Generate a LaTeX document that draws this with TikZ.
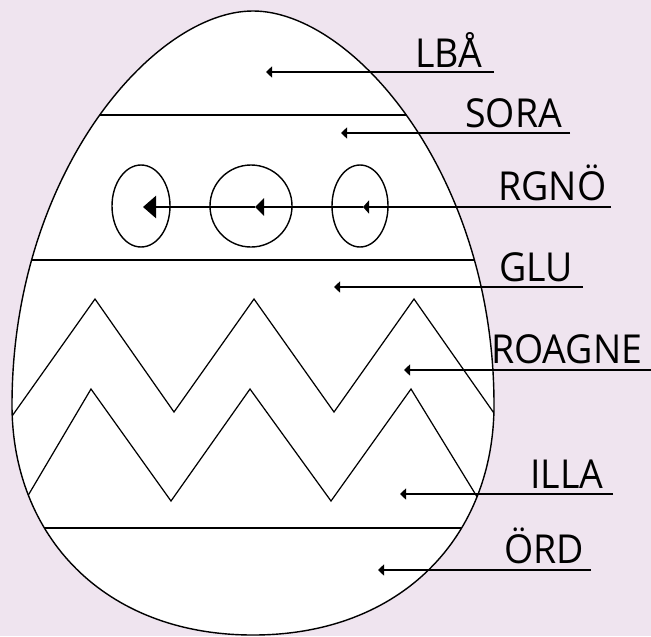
\documentclass[tikz,border=0pt]{standalone}
\usepackage{fontspec}
\setmainfont{Open Sans}[FakeStretch=0.94]
\usetikzlibrary{arrows.meta}
\definecolor{eggbg}{RGB}{239,228,239}

\begin{document}
\begin{tikzpicture}[x=0.02cm, y=-0.02cm,
  lbl/.style={font=\fontsize{22.7}{26}\selectfont, inner sep=0pt, anchor=base west},
  pointer/.style={line width=0.8pt, -{Triangle[length=0.12cm, width=0.22cm]}},
  band/.style={line width=0.8pt},
  zig/.style={line width=0.7pt, line join=miter}]
  % Background
  \fill[eggbg] (0,0) rectangle (651,636);
  \useasboundingbox (0,0) rectangle (651,636);

  % Egg outline
  \path[save path=\eggpath] (253,11) .. controls (353,11) and (494,175) .. (494,405)
    .. controls (494,535) and (403,635) .. (253,635)
    .. controls (103,635) and (12,535) .. (12,405)
    .. controls (12,175) and (153,11) .. (253,11) -- cycle;
  \fill[white, use path=\eggpath];

  % Bands and zigzags, clipped to the egg
  \begin{scope}
    \clip[use path=\eggpath];
    \draw[band] (0,115) -- (651,115);
    \draw[band] (0,260) -- (651,260);
    \draw[band] (0,528) -- (651,528);
    \draw[zig] (5,426) -- (95,299) -- (174,412) -- (254,299) -- (334,412) -- (414,299) -- (503,426);
    \draw[zig] (26,499) -- (91,389) -- (171,501) -- (250,389) -- (331,501) -- (411,389) -- (479,500);
  \end{scope}
  \draw[line width=0.8pt, use path=\eggpath];

  % Dots
  \draw[line width=0.8pt] (141,206) ellipse [x radius=29, y radius=41];
  \draw[line width=0.8pt] (251,206) ellipse [x radius=41, y radius=41];
  \draw[line width=0.8pt] (360,206) ellipse [x radius=28, y radius=41];

  % Labels
  \node[lbl] (lba) at (415,67) {LBÅ};
  \node[lbl] (sora) at (465,127) {SORA};
  \node[lbl] (rgno) at (498,200) {RGNÖ};
  \node[lbl] (glu) at (499,281) {GLU};
  \node[lbl] (roagne) at (491,363) {ROAGNE};
  \node[lbl] (illa) at (530,488) {ILLA};
  \node[lbl] (ord) at (504,563) {ÖRD};

  % Line ends and arrow tips
  \coordinate (lbaEnd) at (494,72);    \coordinate (lbaTip) at (266,72);
  \coordinate (soraEnd) at (570,133);  \coordinate (soraTip) at (341,133);
  \coordinate (rgnoEnd) at (611,207);
  \coordinate (rgnoTipC) at (363,207); \coordinate (rgnoTipB) at (255,207); \coordinate (rgnoTipA) at (143,207);
  \coordinate (gluEnd) at (583,287);   \coordinate (gluTip) at (334,287);
  \coordinate (roagneEnd) at (651,370); \coordinate (roagneTip) at (404,370);
  \coordinate (illaEnd) at (613,494);  \coordinate (illaTip) at (400,494);
  \coordinate (ordEnd) at (591,570);   \coordinate (ordTip) at (378,570);

  % Pointers
  \draw[pointer] (lbaEnd) -- (lbaTip);
  \draw[pointer] (soraEnd) -- (soraTip);
  \draw[line width=1.4pt, -{Triangle[length=0.12cm, width=0.26cm]}] (rgnoEnd) -- (rgnoTipC);
  \draw[line width=1.4pt, -{Triangle[length=0.18cm, width=0.34cm]}] (rgnoTipC) -- (rgnoTipB);
  \draw[line width=1.4pt, -{Triangle[length=0.26cm, width=0.44cm]}] (rgnoTipB) -- (rgnoTipA);
  \draw[pointer] (gluEnd) -- (gluTip);
  \draw[pointer] (roagneEnd) -- (roagneTip);
  \draw[pointer] (illaEnd) -- (illaTip);
  \draw[pointer] (ordEnd) -- (ordTip);
\end{tikzpicture}
\end{document}
